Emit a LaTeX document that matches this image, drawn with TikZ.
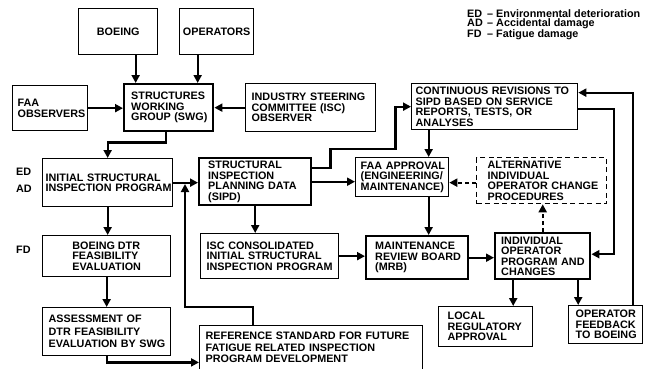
\documentclass[tikz,border=0pt]{standalone}
\usepackage{fontspec}
\setmainfont{Liberation Sans}
\usetikzlibrary{arrows.meta}
\begin{document}
\begin{tikzpicture}[x=1pt,y=-1pt,
  bx/.style={draw, line width=1.3pt, anchor=north west, inner sep=0pt, align=left,
    font=\fontsize{10.8}{10.5}\selectfont\bfseries},
  thk/.style={line width=2.4pt},
  lpad/.style={execute at begin node={\leftskip=#1pt\rightskip=-30pt plus 1fil\relax}},
  arr/.style={line width=2.3pt, -{Triangle[length=8pt,width=8pt]}},
  dsh/.style={dash pattern=on 4pt off 3pt},
  lbl/.style={anchor=west, inner sep=0pt, font=\fontsize{10.8}{10.5}\selectfont\bfseries}
]
\useasboundingbox[fill=white] (0,0) rectangle (650,369);

% legend
\node[anchor=north west, inner sep=0pt, align=left, font=\fontsize{10.8}{9.6}\selectfont\bfseries] (legend) at (467,9)
  {\makebox[20pt][l]{ED}– Environmental deterioration\\
   \makebox[20pt][l]{AD}– Accidental damage\\
   \makebox[20pt][l]{FD}– Fatigue damage};

% side labels
\node[lbl] (ed) at (16,172) {ED};
\node[lbl] (ad) at (16,189) {AD};
\node[lbl] (fd) at (16,250) {FD};

% boxes
\node[bx, align=center, text width=79pt, minimum width=79pt, minimum height=46pt] (boeing) at (78,8) {BOEING};
\node[bx, align=center, text width=74pt, minimum width=74pt, minimum height=46pt] (operators) at (179,8) {OPERATORS};
\node[bx, thk, lpad=7, text width=89pt, minimum width=89pt, minimum height=47pt] (swg) at (123,83) {STRUCTURES\\WORKING\\GROUP (SWG)};
\node[bx, lpad=5, text width=75pt, minimum width=75pt, minimum height=45pt] (faaobs) at (12,85) {FAA\\OBSERVERS};
\node[bx, lpad=6, text width=130pt, minimum width=130pt, minimum height=48pt] (iscobs) at (245,83) {INDUSTRY STEERING\\COMMITTEE (ISC)\\OBSERVER};
\node[bx, lpad=4, text width=166pt, minimum width=166pt, minimum height=46pt] (rev) at (411,83) {CONTINUOUS REVISIONS TO\\SIPD BASED ON SERVICE\\REPORTS, TESTS, OR\\ANALYSES};
\node[bx, lpad=3, text width=130pt, minimum width=130pt, minimum height=48pt] (init) at (42,158) {INITIAL STRUCTURAL\\INSPECTION PROGRAM};
\node[bx, thk, lpad=9, text width=112pt, minimum width=112pt, minimum height=47pt] (sipd) at (198,157) {STRUCTURAL\\INSPECTION\\PLANNING DATA\\(SIPD)};
\node[bx, lpad=5, text width=93pt, minimum width=93pt, minimum height=39pt] (faa) at (355,157) {FAA APPROVAL\\(ENGINEERING/\\MAINTENANCE)};
\node[bx, dash pattern=on 5pt off 3.5pt, lpad=11, text width=130pt, minimum width=130pt, minimum height=46pt] (alt) at (476,157) {ALTERNATIVE\\INDIVIDUAL\\OPERATOR CHANGE\\PROCEDURES};
\node[bx, lpad=6, text width=138pt, minimum width=138pt, minimum height=45pt] (isccons) at (200,233) {ISC CONSOLIDATED\\INITIAL STRUCTURAL\\INSPECTION PROGRAM};
\node[bx, thk, lpad=9, text width=102pt, minimum width=102pt, minimum height=43pt] (mrb) at (365,235) {MAINTENANCE\\REVIEW BOARD\\(MRB)};
\node[bx, thk, lpad=6, text width=95pt, minimum width=95pt, minimum height=46pt] (indiv) at (494,232) {INDIVIDUAL\\OPERATOR\\PROGRAM AND\\CHANGES};
\node[bx, minimum width=128pt, minimum height=41pt] (dtr) at (42,235) {BOEING DTR\\FEASIBILITY\\EVALUATION};
\node[bx, font=\fontsize{10.8}{12.5}\selectfont\bfseries, lpad=6, text width=128pt, minimum width=128pt, minimum height=48pt] (assess) at (42,307) {ASSESSMENT OF\\DTR FEASIBILITY\\EVALUATION BY SWG};
\node[bx, font=\fontsize{10.8}{11.5}\selectfont\bfseries, lpad=6, text width=223pt, minimum width=223pt, minimum height=43.5pt] (ref) at (199,325) {REFERENCE STANDARD FOR FUTURE\\FATIGUE RELATED INSPECTION\\PROGRAM DEVELOPMENT};
\node[bx, lpad=9, text width=94pt, minimum width=94pt, minimum height=40pt] (local) at (438,306) {LOCAL\\REGULATORY\\APPROVAL};
\node[bx, lpad=7, text width=74pt, minimum width=74pt, minimum height=38pt] (feedback) at (568,305) {OPERATOR\\FEEDBACK\\TO BOEING};

% helper coordinates
\coordinate (bA) at ([xshift=17.5pt]boeing.south);
\coordinate (oA) at ([xshift=-19pt]operators.south);
\coordinate (fx) at ([xshift=26.5pt]faa.north);
\coordinate (fy) at ([xshift=26.5pt]faa.south);
\coordinate (ay) at ([yshift=-2pt]alt.west);
\coordinate (iL) at ([xshift=-29.5pt]indiv.south);
\coordinate (iR) at ([xshift=35.5pt]indiv.south);
\coordinate (j) at (185,184);

% connectors
\draw[arr] (bA) -- (bA |- swg.north);
\draw[arr] (oA) -- (oA |- swg.north);
\draw[arr] (faaobs.east) -- (faaobs.east -| swg.west);
\draw[arr] (iscobs.west) -- (iscobs.west -| swg.east);
\draw[arr] ([xshift=-2.5pt]swg.south) -- ++(0,10) -| (init.north);
\draw[arr] (init.east) -- (init.east -| sipd.west);
\draw[arr] (init.south) -- (init.south |- dtr.north);
\draw[arr] (dtr.south) -- (dtr.south |- assess.north);
\draw[arr] (assess.south) |- ([yshift=-15pt]ref.west);
\draw[arr] ([xshift=54pt]ref.north west) -- ++(0,-18) -| (j);
\draw[arr] (sipd.south) -- (sipd.south |- isccons.north);
\draw[arr] (isccons.east) -- (isccons.east -| mrb.west);
\draw[arr] (sipd.east) -- (sipd.east -| faa.west);
\draw[arr] ([yshift=13.5pt]sipd.east) -- ++(18,0) -- ++(0,-19) -- ++(65,0) |- (rev.west);
\draw[arr] (fx |- rev.south) -- (fx);
\draw[arr] (fy) -- (fy |- mrb.north);
\draw[arr, dsh] (ay) -- (ay -| faa.east);
\draw[arr, dsh] (indiv.north) -- (indiv.north |- alt.south);
\draw[arr] (mrb.east) -- (mrb.east -| indiv.west);
\draw[arr] ([yshift=-2pt]rev.east) -- ++(36,0) |- ([yshift=2pt]indiv.east);
\draw[arr] ([xshift=27pt]feedback.north) |- ([yshift=14pt]rev.east);
\draw[arr] (iL) -- (iL |- local.north);
\draw[arr] (iR) -- (iR |- feedback.north);
\end{tikzpicture}
\end{document}
